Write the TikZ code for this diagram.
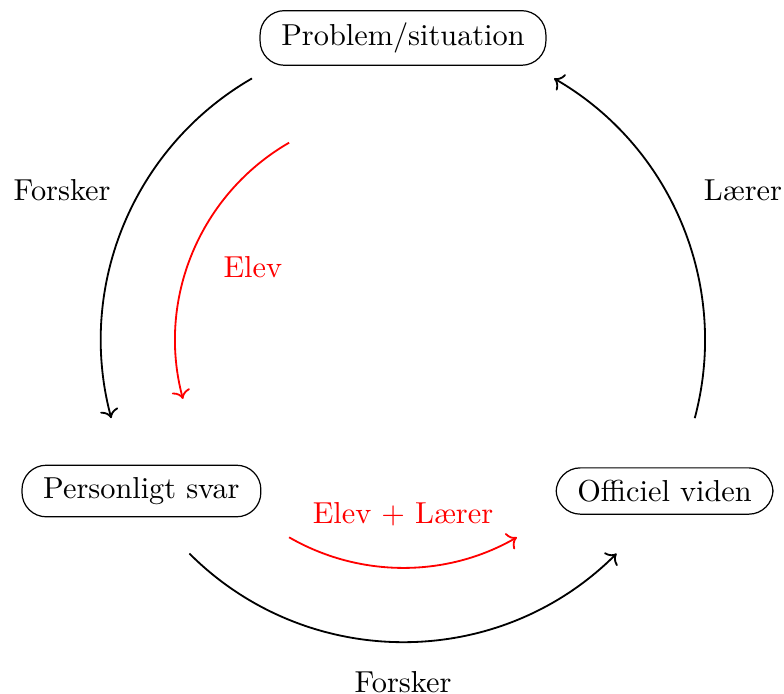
\documentclass[tikz,border=0pt]{standalone}
\usetikzlibrary{arrows.meta}
\begin{document}
\begin{tikzpicture}[
    stage/.style={rectangle, draw=black, rounded corners=8pt, inner xsep=7pt, inner ysep=4pt},
    lbl/.style={inner sep=1pt},
    arr/.style={->, semithick},
    redarr/.style={->, semithick, red}
]
\useasboundingbox (-4.670,-4.102) rectangle (4.415,3.940);
\def\R{3.5}
\def\r{2.64}

\node[stage] (prob) at (90:\R) {Problem/situation};
\node[stage] (pers) at (210:\R) {Personligt svar};
\node[stage] (offi) at (330:\R) {Officiel viden};

% outer cycle
\coordinate (outA) at (120:\R);
\coordinate (outB) at (225:\R);
\coordinate (outC) at (345:\R);
\draw[arr] (outA) arc[start angle=120, end angle=195, radius=\R];
\draw[arr] (outB) arc[start angle=225, end angle=315, radius=\R];
\draw[arr] (outC) arc[start angle=345, end angle=420, radius=\R];

% inner cycle
\coordinate (inA) at (120:\r);
\coordinate (inB) at (240:\r);
\draw[redarr] (inA) arc[start angle=120, end angle=195, radius=\r];
\draw[redarr] (inB) arc[start angle=240, end angle=300, radius=\r];

\node[lbl] (forsk1) at (-3.95,1.74) {Forsker};
\node[lbl] (laer) at (3.94,1.74) {Lærer};
\node[lbl] (forsk2) at (0,-3.96) {Forsker};
\node[lbl, red] (elev) at (-1.74,0.85) {Elev};
\node[lbl, red] (elevlaer) at (0,-2.02) {Elev + Lærer};

\end{tikzpicture}
\end{document}
